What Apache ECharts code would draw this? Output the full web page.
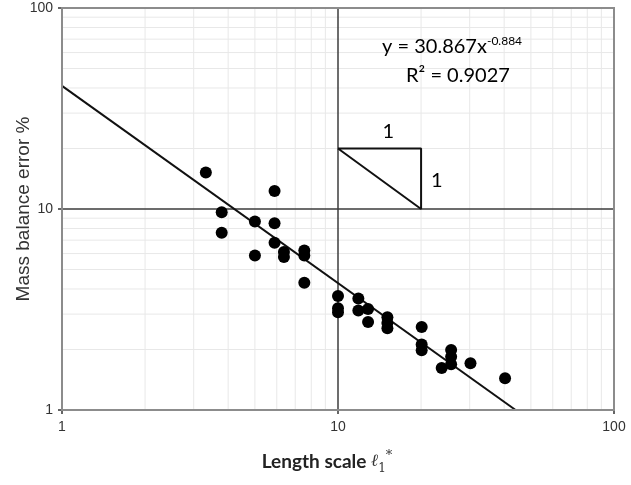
<!DOCTYPE html>
<html>
<head>
<meta charset="utf-8">
<script src="https://cdn.jsdelivr.net/npm/echarts@6/dist/echarts.min.js"></script>
<style>
  html, body { margin: 0; padding: 0; background: #ffffff; }
  #chart { width: 631px; height: 485px; }
</style>
</head>
<body>
<div id="chart"></div>
<script>
// Measured runs: normalised length scale vs. mass balance error (%)
const lengthScale = [3.32, 3.79, 3.79, 5.0, 5.0, 5.89, 5.89, 5.89, 6.37, 6.37, 7.55, 7.55, 7.55,
  10.0, 10.0, 10.0, 11.85, 11.85, 12.85, 12.85, 15.1, 15.1, 15.1, 20.1, 20.1, 20.1,
  23.75, 25.7, 25.7, 25.7, 30.2, 40.3];
const massError = [15.2, 9.63, 7.62, 8.67, 5.87, 12.3, 8.5, 6.8, 6.11, 5.77, 6.22, 5.87, 4.3,
  3.69, 3.21, 3.06, 3.59, 3.13, 3.18, 2.74, 2.89, 2.71, 2.55, 2.59, 2.12, 1.98,
  1.62, 1.99, 1.84, 1.69, 1.71, 1.44];

// Reference line and the 1:1 slope triangle
const slopeLine = [[1, 41], [44, 1]];
const slopeTriangle = [[10, 20], [20, 20], [20, 10], [10, 20]];

// Gridline values on the log axes
const minorGrid = [2, 3, 4, 5, 6, 7, 8, 9, 20, 30, 40, 50, 60, 70, 80, 90];
const majorGrid = [10];
const axisRange = [1, 100];

// Annotation texts and their data anchors
const fitEquation = { coef: '30.867', power: '-0.884', r2: '0.9027' };
const notes = [
  { at: [25.9, 64], key: 'eq' },
  { at: [27.2, 46.2], key: 'r2' },
  { at: [15.2, 24.2], key: 'run' },
  { at: [22.8, 13.9], key: 'rise' }
];

const points = lengthScale.map((x, i) => [x, massError[i]]);

// Full-height / full-width segments for each gridline value, broken by empty points
function gridSegments(vals) {
  const out = [];
  vals.forEach(v => {
    out.push([v, axisRange[0]], [v, axisRange[1]], [v, '-']);
  });
  vals.forEach(v => {
    out.push([axisRange[0], v], [axisRange[1], v], ['-', v]);
  });
  return out;
}

const chart = echarts.init(document.getElementById('chart'), null, { renderer: 'canvas' });

const tickFont = { fontFamily: 'Liberation Sans, Arial, sans-serif', fontSize: 14, color: '#333333' };

chart.setOption({
  animation: false,
  backgroundColor: '#ffffff',
  grid: {
    left: 62, right: 17, top: 8, bottom: 75,
    outerBoundsMode: 'none',
    containLabel: false,
    show: true, borderColor: '#8c8c8c', borderWidth: 2, backgroundColor: 'transparent', z: 10
  },
  xAxis: {
    type: 'log', logBase: 10, min: axisRange[0], max: axisRange[1],
    axisLine: { show: false },
    axisTick: { show: true, length: 4, lineStyle: { color: '#333', width: 1.5 } },
    splitLine: { show: false },
    axisLabel: Object.assign({ margin: 10 }, tickFont),
    name: '{t|Length scale }{l|ℓ}{s|1}{p|*}',
    nameLocation: 'middle',
    nameMoveOverlap: false,
    nameGap: 39,
    nameTextStyle: {
      padding: [0, 22, 0, 0],
      rich: {
        t: { fontFamily: 'Lato, Open Sans, sans-serif', fontWeight: 'bold', fontSize: 19, color: '#222', lineHeight: 26 },
        l: { fontFamily: 'DejaVu Serif, serif', fontStyle: 'italic', fontSize: 17, color: '#333', lineHeight: 26 },
        s: { fontFamily: 'DejaVu Serif, serif', fontSize: 12, color: '#333', verticalAlign: 'bottom', lineHeight: 12 },
        p: { fontFamily: 'DejaVu Serif, serif', fontSize: 13, color: '#333', verticalAlign: 'top', lineHeight: 10 }
      }
    }
  },
  yAxis: {
    type: 'log', logBase: 10, min: axisRange[0], max: axisRange[1],
    axisLine: { show: false },
    axisTick: { show: true, length: 4, lineStyle: { color: '#333', width: 1.5 } },
    splitLine: { show: false },
    axisLabel: Object.assign({ margin: 9 }, tickFont),
    name: 'Mass balance error %',
    nameLocation: 'middle',
    nameMoveOverlap: false,
    nameGap: 29,
    nameTextStyle: { fontFamily: 'Liberation Sans, Arial, sans-serif', fontSize: 19, color: '#333333' }
  },
  series: [
    {
      name: 'minor grid',
      type: 'line',
      data: gridSegments(minorGrid),
      z: 1,
      silent: true,
      symbol: 'none',
      connectNulls: false,
      lineStyle: { color: '#e8e8e8', width: 1 }
    },
    {
      name: 'major grid',
      type: 'line',
      data: gridSegments(majorGrid),
      z: 2,
      silent: true,
      symbol: 'none',
      connectNulls: false,
      lineStyle: { color: '#3c3c3c', width: 1.5 }
    },
    {
      name: 'slope',
      type: 'line',
      data: slopeLine,
      z: 3,
      symbol: 'none',
      lineStyle: { color: '#111', width: 2 }
    },
    {
      name: 'triangle',
      type: 'line',
      data: slopeTriangle,
      z: 3,
      symbol: 'none',
      lineStyle: { color: '#111', width: 2 }
    },
    {
      name: 'runs',
      type: 'scatter',
      data: points,
      z: 4,
      symbol: 'circle',
      symbolSize: 12,
      itemStyle: { color: '#000000', opacity: 1 }
    }
  ]
});

// Annotation texts positioned from their data anchors
const noteText = {
  eq: '{a|y = ' + fitEquation.coef + 'x}{b|' + fitEquation.power + '}',
  r2: '{a|R² = ' + fitEquation.r2 + '}',
  run: '{a|1}',
  rise: '{a|1}'
};
const noteRich = {
  a: { fontFamily: 'Lato, Open Sans, sans-serif', fontSize: 20, color: '#222', lineHeight: 24 },
  b: { fontFamily: 'Lato, Open Sans, sans-serif', fontSize: 12, color: '#222', lineHeight: 12, verticalAlign: 'top' }
};
chart.setOption({
  graphic: notes.map(n => {
    const p = chart.convertToPixel({ gridIndex: 0 }, n.at);
    return {
      type: 'text',
      x: p[0], y: p[1], z: 20,
      style: { text: noteText[n.key], rich: noteRich, align: 'center', verticalAlign: 'middle' }
    };
  })
});
</script>
</body>
</html>
